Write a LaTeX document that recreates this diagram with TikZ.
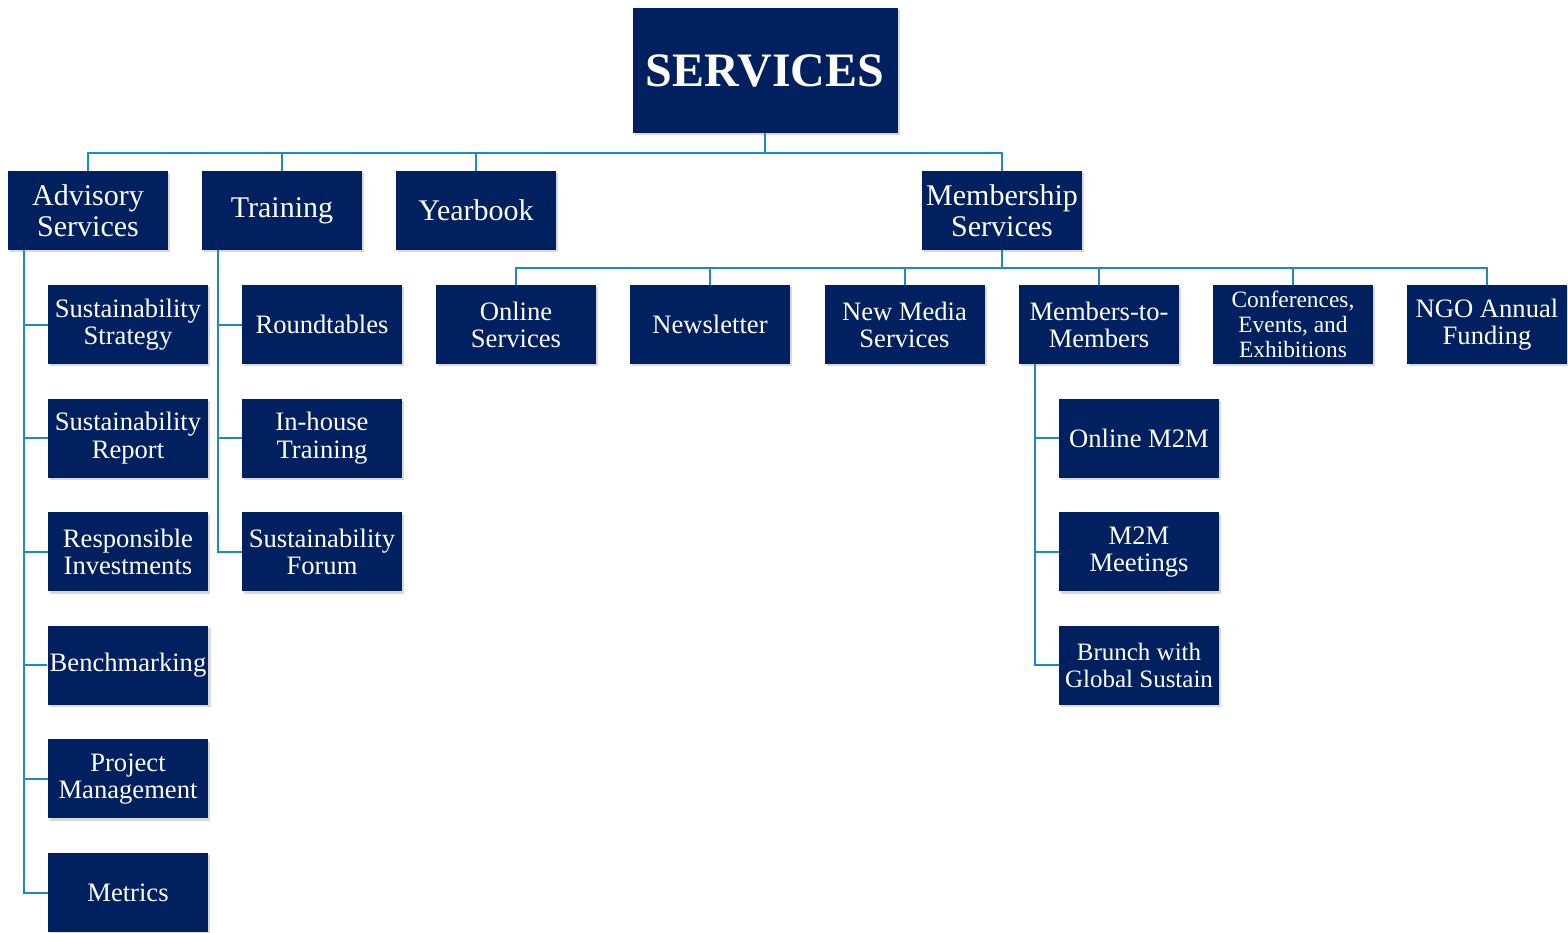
\documentclass[tikz,border=0pt]{standalone}
\usepackage{fontspec}
\setmainfont{Liberation Serif}
\usepackage{xcolor}
\usetikzlibrary{shadows}
\definecolor{boxnavy}{RGB}{0,32,96}
\definecolor{linkblue}{RGB}{28,138,198}

\begin{document}
\begin{tikzpicture}[x=0.5pt, y=-0.5pt,
  box/.style={fill=boxnavy, text=white, align=center, inner sep=1pt,
    minimum width=80pt, minimum height=39.5pt,
    drop shadow={opacity=0.3, shadow xshift=1.2pt, shadow yshift=-1.2pt}},
  bigbox/.style={box, font=\fontsize{15}{15.5}\selectfont},
  smallbox/.style={box, font=\fontsize{13.3}{13.6}\selectfont},
  link/.style={draw=linkblue, line width=1pt}]
  \useasboundingbox (0,0) rectangle (1568,932);
  \coordinate (topbus) at (0,153);
  \coordinate (membbus) at (0,268);
  \node[box, minimum width=132.5pt, minimum height=62.5pt, font=\fontsize{24}{28}\bfseries] (serv) at (765,70.5) {SERVICES};
  \node[bigbox] (adv) at (88,210.5) {Advisory\\Services};
  \node[bigbox] (train) at (282,210.5) {Training};
  \node[bigbox] (year) at (476,210.5) {Yearbook};
  \node[bigbox] (memb) at (1002,210.5) {Membership\\Services};
  % advisory services
  \node[smallbox] (adv1) at (128,324.5) {Sustainability\\Strategy};
  \node[smallbox] (adv2) at (128,438.1) {Sustainability\\Report};
  \node[smallbox] (adv3) at (128,551.7) {Responsible\\Investments};
  \node[smallbox] (adv4) at (128,665.3) {Benchmarking};
  \node[smallbox] (adv5) at (128,778.9) {Project\\Management};
  \node[smallbox] (adv6) at (128,892.5) {Metrics};
  % training
  \node[smallbox] (train1) at (322,324.5) {Roundtables};
  \node[smallbox] (train2) at (322,438.1) {In-house\\Training};
  \node[smallbox] (train3) at (322,551.7) {Sustainability\\Forum};
  % membership services
  \node[smallbox] (memb1) at (516,324.5) {Online\\Services};
  \node[smallbox] (memb2) at (710,324.5) {Newsletter};
  \node[smallbox] (memb3) at (904.5,324.5) {New Media\\Services};
  \node[smallbox] (memb4) at (1099,324.5) {Members-to-\\Members};
  \node[box, font=\fontsize{11.7}{12.5}\selectfont] (memb5) at (1293,324.5) {Conferences,\\Events, and\\Exhibitions};
  \node[smallbox] (memb6) at (1487,324.5) {NGO Annual\\Funding};
  % members-to-members
  \node[smallbox] (mtm1) at (1139,438.1) {Online M2M};
  \node[smallbox] (mtm2) at (1139,551.7) {M2M\\Meetings};
  \node[box, font=\fontsize{12.5}{13.4}\selectfont] (mtm3) at (1139,665.3) {Brunch with\\Global Sustain};
  % top level connectors
  \draw[link] (serv.south) -- (serv.south |- topbus);
  \draw[link] (adv.north) -- (adv.north |- topbus) -- (memb.north |- topbus) -- (memb.north);
  \draw[link] (train.north) -- (train.north |- topbus);
  \draw[link] (year.north) -- (year.north |- topbus);
  % membership connectors
  \draw[link] (memb.south) -- (memb.south |- membbus);
  \draw[link] (memb1.north) -- (memb1.north |- membbus) -- (memb6.north |- membbus) -- (memb6.north);
  \foreach \n in {memb2,memb3,memb4,memb5}
    \draw[link] (\n.north) -- (\n.north |- membbus);
  % side spines
  \coordinate (advspine) at ([xshift=8pt]adv.south west);
  \coordinate (trainspine) at ([xshift=8pt]train.south west);
  \coordinate (mtmspine) at ([xshift=8pt]memb4.south west);
  \draw[link] (advspine) |- (adv6.west);
  \foreach \n in {adv1,adv2,adv3,adv4,adv5}
    \draw[link] (\n.west) -- (\n.west -| advspine);
  \draw[link] (trainspine) |- (train3.west);
  \foreach \n in {train1,train2}
    \draw[link] (\n.west) -- (\n.west -| trainspine);
  \draw[link] (mtmspine) |- (mtm3.west);
  \foreach \n in {mtm1,mtm2}
    \draw[link] (\n.west) -- (\n.west -| mtmspine);
\end{tikzpicture}
\end{document}
